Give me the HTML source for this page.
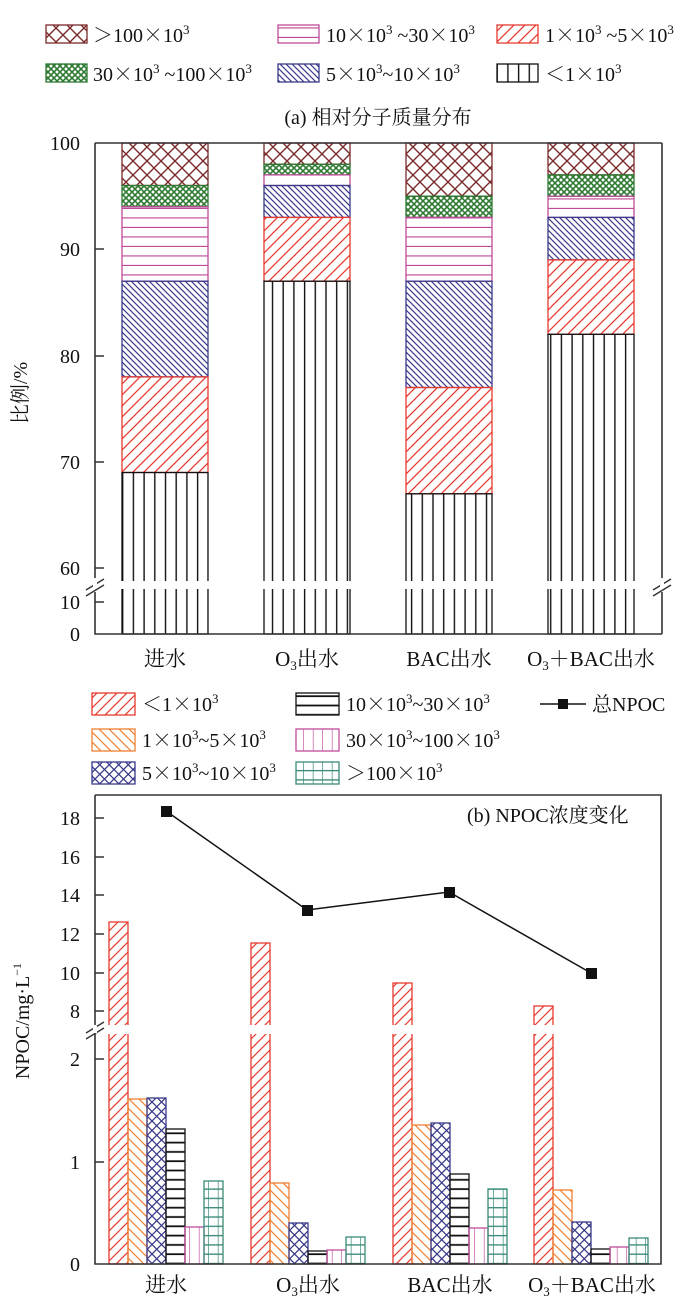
<!DOCTYPE html>
<html><head><meta charset="utf-8"><style>
html,body{margin:0;padding:0;background:#fff}
svg{display:block}
text{font-family:"Liberation Serif","Noto Serif CJK SC",serif;fill:#111}
.c{font-family:"Noto Serif CJK SC",serif}
</style></head><body>
<svg width="700" height="1303" viewBox="0 0 700 1303" xmlns="http://www.w3.org/2000/svg">
<defs>
<pattern id="pBrown" patternUnits="userSpaceOnUse" width="14" height="14"><path d="M0,0L14,14M14,0L0,14" stroke="#7a2a2a" stroke-width="1.4"/></pattern>
<pattern id="pGreen" patternUnits="userSpaceOnUse" width="6" height="6"><path d="M0,0L6,6M6,0L0,6" stroke="#2e7a32" stroke-width="1.6"/></pattern>
<pattern id="pPinkH" patternUnits="userSpaceOnUse" width="10" height="9.5"><path d="M0,9L10,9" stroke="#c04a9a" stroke-width="1.3"/></pattern>
<pattern id="pBlueD" patternUnits="userSpaceOnUse" width="6" height="6"><path d="M0,0L6,6M-3,3L3,9M3,-3L9,3" stroke="#3a3a8a" stroke-width="1.2"/></pattern>
<pattern id="pRedS" patternUnits="userSpaceOnUse" width="11" height="11"><path d="M0,11L11,0M-3,3L3,-3M8,14L14,8" stroke="#e83a30" stroke-width="1.3"/></pattern>
<pattern id="pBlackV" patternUnits="userSpaceOnUse" width="10.7" height="10"><path d="M5,0L5,10" stroke="#111" stroke-width="1.4"/></pattern>
<pattern id="pRedS2" patternUnits="userSpaceOnUse" width="10" height="10"><path d="M0,10L10,0M-3,3L3,-3M7,13L13,7" stroke="#e83a30" stroke-width="1.2"/></pattern>
<pattern id="pOrange" patternUnits="userSpaceOnUse" width="10" height="10"><path d="M0,0L10,10M-3,7L3,13M7,-3L13,3" stroke="#f08030" stroke-width="1.2"/></pattern>
<pattern id="pBlueX" patternUnits="userSpaceOnUse" width="9.5" height="9.5"><path d="M0,0L9.5,9.5M9.5,0L0,9.5" stroke="#3a3a8a" stroke-width="1.3"/></pattern>
<pattern id="pBlackH" patternUnits="userSpaceOnUse" width="10" height="9.3"><path d="M0,8L10,8" stroke="#111" stroke-width="1.8"/></pattern>
<pattern id="pPinkV" patternUnits="userSpaceOnUse" width="9.5" height="10"><path d="M9.5,0L9.5,10" stroke="#c04a9a" stroke-width="1.3"/></pattern>
<pattern id="pTeal" patternUnits="userSpaceOnUse" width="9.5" height="9.3"><path d="M0,8L9.5,8M9.5,0L9.5,9.3" stroke="#3a8a7a" stroke-width="1.4"/></pattern>
</defs>

<!-- Legend a -->
<g font-size="20">
<rect x="46" y="25" width="41" height="18" fill="url(#pBrown)" stroke="#7a2a2a" stroke-width="1.3"/>
<text x="93" y="42"><tspan class="c">＞</tspan>100<tspan class="c">×</tspan>10<tspan font-size="13" dy="-8">3</tspan></text>
<rect x="278" y="25" width="41" height="18" fill="url(#pPinkH)" stroke="#c04a9a" stroke-width="1.3"/>
<text x="326" y="42">10<tspan class="c">×</tspan>10<tspan font-size="13" dy="-8">3</tspan><tspan dy="8"> ~30</tspan><tspan class="c">×</tspan>10<tspan font-size="13" dy="-8">3</tspan></text>
<rect x="497" y="25" width="41" height="18" fill="url(#pRedS)" stroke="#e83a30" stroke-width="1.3"/>
<text x="545" y="42">1<tspan class="c">×</tspan>10<tspan font-size="13" dy="-8">3</tspan><tspan dy="8">  ~5</tspan><tspan class="c">×</tspan>10<tspan font-size="13" dy="-8">3</tspan></text>
<rect x="46" y="64" width="41" height="18" fill="url(#pGreen)" stroke="#2e7a32" stroke-width="1.3"/>
<text x="93" y="81">30<tspan class="c">×</tspan>10<tspan font-size="13" dy="-8">3</tspan><tspan dy="8"> ~100</tspan><tspan class="c">×</tspan>10<tspan font-size="13" dy="-8">3</tspan></text>
<rect x="278" y="64" width="41" height="18" fill="url(#pBlueD)" stroke="#3a3a8a" stroke-width="1.3"/>
<text x="326" y="81">5<tspan class="c">×</tspan>10<tspan font-size="13" dy="-8">3</tspan><tspan dy="8">~10</tspan><tspan class="c">×</tspan>10<tspan font-size="13" dy="-8">3</tspan></text>
<rect x="497" y="64" width="41" height="18" fill="url(#pBlackV)" stroke="#111" stroke-width="1.3"/>
<text x="545" y="81"><tspan class="c">＜</tspan>1<tspan class="c">×</tspan>10<tspan font-size="13" dy="-8">3</tspan></text>
<text x="378" y="124" text-anchor="middle">(a) 相对分子质量分布</text>
</g>

<!-- Panel a bars -->
<g stroke-width="1.3">
<rect x="122" y="143" width="86" height="42.5" fill="url(#pBrown)" stroke="#7a2a2a"/>
<rect x="122" y="185.5" width="86" height="21.3" fill="url(#pGreen)" stroke="#2e7a32"/>
<rect x="122" y="206.8" width="86" height="74.4" fill="url(#pPinkH)" stroke="#c04a9a"/>
<rect x="122" y="281.2" width="86" height="95.7" fill="url(#pBlueD)" stroke="#3a3a8a"/>
<rect x="122" y="376.9" width="86" height="95.6" fill="url(#pRedS)" stroke="#e83a30"/>
<rect x="122" y="472.5" width="86" height="161.5" fill="url(#pBlackV)" stroke="#111"/>
<rect x="264" y="143" width="86" height="21.3" fill="url(#pBrown)" stroke="#7a2a2a"/>
<rect x="264" y="164.3" width="86" height="10.6" fill="url(#pGreen)" stroke="#2e7a32"/>
<rect x="264" y="174.9" width="86" height="10.6" fill="#fff" stroke="#c04a9a"/>
<rect x="264" y="185.5" width="86" height="31.9" fill="url(#pBlueD)" stroke="#3a3a8a"/>
<rect x="264" y="217.4" width="86" height="63.8" fill="url(#pRedS)" stroke="#e83a30"/>
<rect x="264" y="281.2" width="86" height="352.8" fill="url(#pBlackV)" stroke="#111"/>
<rect x="406" y="143" width="86" height="53.2" fill="url(#pBrown)" stroke="#7a2a2a"/>
<rect x="406" y="196.2" width="86" height="21.2" fill="url(#pGreen)" stroke="#2e7a32"/>
<rect x="406" y="217.4" width="86" height="63.8" fill="url(#pPinkH)" stroke="#c04a9a"/>
<rect x="406" y="281.2" width="86" height="106.3" fill="url(#pBlueD)" stroke="#3a3a8a"/>
<rect x="406" y="387.5" width="86" height="106.3" fill="url(#pRedS)" stroke="#e83a30"/>
<rect x="406" y="493.8" width="86" height="140.2" fill="url(#pBlackV)" stroke="#111"/>
<rect x="548" y="143" width="86" height="31.9" fill="url(#pBrown)" stroke="#7a2a2a"/>
<rect x="548" y="174.9" width="86" height="21.3" fill="url(#pGreen)" stroke="#2e7a32"/>
<rect x="548" y="196.2" width="86" height="21.2" fill="url(#pPinkH)" stroke="#c04a9a"/>
<rect x="548" y="217.4" width="86" height="42.5" fill="url(#pBlueD)" stroke="#3a3a8a"/>
<rect x="548" y="259.9" width="86" height="74.4" fill="url(#pRedS)" stroke="#e83a30"/>
<rect x="548" y="334.3" width="86" height="299.7" fill="url(#pBlackV)" stroke="#111"/>
</g>
<rect x="96" y="581" width="564" height="8" fill="#fff"/>
<g stroke="#333" stroke-width="1.6" fill="none">
<path d="M95,143L662,143M95,143L95,578M95,592L95,634L662,634M662,143L662,578M662,592L662,634"/>
<path d="M95,249h9M95,356h9M95,462h9M95,568h9M95,602h9"/>
<path d="M86,590L104,579M86,596L104,585M653,590L671,579M653,596L671,585" stroke-width="1.4"/>
</g>
<rect x="93" y="582" width="4" height="6" fill="#fff"/><rect x="660" y="582" width="4" height="6" fill="#fff"/>
<g font-size="20" text-anchor="end">
<text x="80" y="150">100</text><text x="80" y="256">90</text><text x="80" y="363">80</text>
<text x="80" y="469">70</text><text x="80" y="575">60</text><text x="80" y="609">10</text><text x="80" y="641">0</text>
</g>
<text transform="translate(27,393) rotate(-90)" font-size="20" text-anchor="middle">比例/%</text>
<g font-size="21" text-anchor="middle">
<text x="165" y="666">进水</text>
<text x="307" y="666">O<tspan font-size="13" dy="4">3</tspan><tspan dy="-4">出水</tspan></text>
<text x="449" y="666">BAC出水</text>
<text x="591" y="666">O<tspan font-size="13" dy="4">3</tspan><tspan dy="-4">＋BAC出水</tspan></text>
</g>

<!-- Legend b -->
<g font-size="20">
<rect x="92" y="693" width="43" height="22" fill="url(#pRedS2)" stroke="#e83a30" stroke-width="1.3"/>
<text x="142" y="711"><tspan class="c">＜</tspan>1<tspan class="c">×</tspan>10<tspan font-size="13" dy="-8">3</tspan></text>
<rect x="92" y="729" width="43" height="22" fill="url(#pOrange)" stroke="#f08030" stroke-width="1.3"/>
<text x="142" y="747">1<tspan class="c">×</tspan>10<tspan font-size="13" dy="-8">3</tspan><tspan dy="8">~5</tspan><tspan class="c">×</tspan>10<tspan font-size="13" dy="-8">3</tspan></text>
<rect x="92" y="762" width="43" height="22" fill="url(#pBlueX)" stroke="#3a3a8a" stroke-width="1.3"/>
<text x="142" y="780">5<tspan class="c">×</tspan>10<tspan font-size="13" dy="-8">3</tspan><tspan dy="8">~10</tspan><tspan class="c">×</tspan>10<tspan font-size="13" dy="-8">3</tspan></text>
<rect x="296" y="693" width="43" height="22" fill="url(#pBlackH)" stroke="#111" stroke-width="1.3"/>
<text x="346" y="711">10<tspan class="c">×</tspan>10<tspan font-size="13" dy="-8">3</tspan><tspan dy="8">~30</tspan><tspan class="c">×</tspan>10<tspan font-size="13" dy="-8">3</tspan></text>
<rect x="296" y="729" width="43" height="22" fill="url(#pPinkV)" stroke="#c04a9a" stroke-width="1.3"/>
<text x="346" y="747">30<tspan class="c">×</tspan>10<tspan font-size="13" dy="-8">3</tspan><tspan dy="8">~100</tspan><tspan class="c">×</tspan>10<tspan font-size="13" dy="-8">3</tspan></text>
<rect x="296" y="762" width="43" height="22" fill="url(#pTeal)" stroke="#3a8a7a" stroke-width="1.3"/>
<text x="346" y="780"><tspan class="c">＞</tspan>100<tspan class="c">×</tspan>10<tspan font-size="13" dy="-8">3</tspan></text>
<path d="M540,704L586,704" stroke="#111" stroke-width="1.6"/>
<rect x="558" y="699" width="10" height="10" fill="#111"/>
<text x="592" y="711">总NPOC</text>
</g>

<!-- Panel b bars -->
<g stroke-width="1.3">
<rect x="109" y="922" width="19" height="342" fill="url(#pRedS2)" stroke="#e83a30"/>
<rect x="128" y="1099" width="19" height="165" fill="url(#pOrange)" stroke="#f08030"/>
<rect x="147" y="1098" width="19" height="166" fill="url(#pBlueX)" stroke="#3a3a8a"/>
<rect x="166" y="1129" width="19" height="135" fill="url(#pBlackH)" stroke="#111"/>
<rect x="185" y="1227" width="19" height="37" fill="url(#pPinkV)" stroke="#c04a9a"/>
<rect x="204" y="1181" width="19" height="83" fill="url(#pTeal)" stroke="#3a8a7a"/>
<rect x="251" y="943" width="19" height="321" fill="url(#pRedS2)" stroke="#e83a30"/>
<rect x="270" y="1183" width="19" height="81" fill="url(#pOrange)" stroke="#f08030"/>
<rect x="289" y="1223" width="19" height="41" fill="url(#pBlueX)" stroke="#3a3a8a"/>
<rect x="308" y="1251" width="19" height="13" fill="url(#pBlackH)" stroke="#111"/>
<rect x="327" y="1250" width="19" height="14" fill="url(#pPinkV)" stroke="#c04a9a"/>
<rect x="346" y="1237" width="19" height="27" fill="url(#pTeal)" stroke="#3a8a7a"/>
<rect x="393" y="983" width="19" height="281" fill="url(#pRedS2)" stroke="#e83a30"/>
<rect x="412" y="1125" width="19" height="139" fill="url(#pOrange)" stroke="#f08030"/>
<rect x="431" y="1123" width="19" height="141" fill="url(#pBlueX)" stroke="#3a3a8a"/>
<rect x="450" y="1174" width="19" height="90" fill="url(#pBlackH)" stroke="#111"/>
<rect x="469" y="1228" width="19" height="36" fill="url(#pPinkV)" stroke="#c04a9a"/>
<rect x="488" y="1189" width="19" height="75" fill="url(#pTeal)" stroke="#3a8a7a"/>
<rect x="534" y="1006" width="19" height="258" fill="url(#pRedS2)" stroke="#e83a30"/>
<rect x="553" y="1190" width="19" height="74" fill="url(#pOrange)" stroke="#f08030"/>
<rect x="572" y="1222" width="19" height="42" fill="url(#pBlueX)" stroke="#3a3a8a"/>
<rect x="591" y="1249" width="19" height="15" fill="url(#pBlackH)" stroke="#111"/>
<rect x="610" y="1247" width="19" height="17" fill="url(#pPinkV)" stroke="#c04a9a"/>
<rect x="629" y="1238" width="19" height="26" fill="url(#pTeal)" stroke="#3a8a7a"/>
</g>
<rect x="96" y="1025" width="564" height="9" fill="#fff"/>
<path d="M166,811L307,910L449,892L591,973" stroke="#111" stroke-width="1.5" fill="none"/>
<g fill="#111"><rect x="161" y="806" width="11" height="11"/><rect x="302" y="905" width="11" height="11"/><rect x="444" y="887" width="11" height="11"/><rect x="586" y="968" width="11" height="11"/></g>
<g stroke="#333" stroke-width="1.6" fill="none">
<path d="M95,795L661,795L661,1264L95,1264L95,1034M95,1025L95,795"/>
<path d="M95,818h9M95,857h9M95,895h9M95,934h9M95,973h9M95,1011h9M95,1059h9M95,1162h9"/>
<path d="M86,1033L104,1022M86,1039L104,1028" stroke-width="1.4"/>
</g>
<rect x="93" y="1026" width="4" height="7" fill="#fff"/>
<g font-size="20" text-anchor="end">
<text x="80" y="825">18</text><text x="80" y="864">16</text><text x="80" y="902">14</text><text x="80" y="941">12</text>
<text x="80" y="980">10</text><text x="80" y="1018">8</text><text x="80" y="1066">2</text><text x="80" y="1169">1</text><text x="80" y="1271">0</text>
</g>
<text x="467" y="822" font-size="20">(b) NPOC浓度变化</text>
<text transform="translate(29,1021) rotate(-90)" font-size="20" text-anchor="middle">NPOC/mg·L<tspan font-size="12" dy="-8">−1</tspan></text>
<g font-size="21" text-anchor="middle">
<text x="166" y="1292">进水</text>
<text x="308" y="1292">O<tspan font-size="13" dy="4">3</tspan><tspan dy="-4">出水</tspan></text>
<text x="450" y="1292">BAC出水</text>
<text x="592" y="1292">O<tspan font-size="13" dy="4">3</tspan><tspan dy="-4">＋BAC出水</tspan></text>
</g>
</svg>
</body></html>
